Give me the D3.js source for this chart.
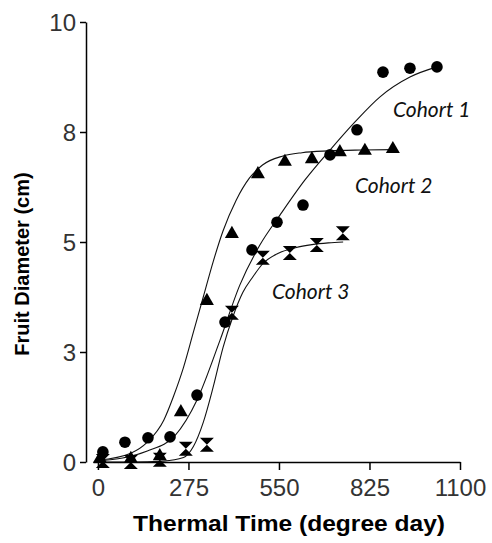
<!DOCTYPE html>
<html>
<head>
<meta charset="utf-8">
<script src="https://cdn.jsdelivr.net/npm/d3@7"></script>
<style>
  body { margin: 0; background: #fff; }
  svg { display: block; }
</style>
</head>
<body>
<div id="chart"></div>
<script>
// observed points, thermal time (degree day) vs fruit diameter (cm)
const cohort1 = [[15,0.23],[82,0.45],[152,0.55],[219,0.57],[301,1.52],[386,3.18],[468,4.82],[544,5.45],[623,5.84],[705,6.98],[787,7.55],[866,8.86],[948,8.95],[1030,8.98]];
const cohort2 = [[6,0.05],[100,0.05],[188,0.11],[252,1.11],[331,3.64],[407,5.16],[486,6.52],[568,6.8],[650,6.86],[735,7.02],[811,7.05],[896,7.09]];
const cohort3 = [[15,0.02],[100,0],[188,0.05],[267,0.3],[331,0.39],[407,3.39],[501,4.64],[583,4.75],[665,4.93],[744,5.2]];

// fitted curves
const fit1 = [[0,0.02],[150,0.25],[234,0.6],[301,1.41],[371,2.77],[431,4.02],[492,4.93],[553,5.61],[629,6.41],[705,7.09],[781,7.73],[857,8.3],[948,8.75],[1030,8.98]];
const fit2 = [[0,0.04],[100,0.2],[150,0.45],[200,0.95],[230,1.5],[260,2.15],[290,2.95],[320,3.75],[350,4.55],[380,5.25],[420,5.95],[460,6.45],[500,6.75],[560,6.95],[620,7.03],[700,7.07],[800,7.09],[900,7.1]];
const fit3 = [[0,0],[100,0],[200,0.02],[260,0.1],[290,0.35],[320,0.9],[350,1.7],[380,2.6],[410,3.3],[440,3.85],[470,4.2],[500,4.5],[550,4.75],[600,4.87],[650,4.94],[700,4.98],[745,5.0]];

const xTicks = [0, 275, 550, 825, 1100];
const yTicks = [0, 2.5, 5, 7.5, 10];
const yTickLabels = ["0", "3", "5", "8", "10"];
const cohortNames = ["Cohort 1", "Cohort 2", "Cohort 3"];

const width = 492;
const height = 543;

const svg = d3.select("#chart")
  .append("svg")
  .attr("width", width)
  .attr("height", height);

const x = d3.scaleLinear().domain([-15, 1100]).range([93, 460]);
const y = d3.scaleLinear().domain([0, 10]).range([462, 22]);

// x axis
const xAxis = svg.append("g")
  .attr("transform", `translate(0, ${y(0)})`)
  .call(d3.axisBottom(x).tickValues(xTicks).tickFormat(d3.format("d"))
    .tickSize(8).tickSizeOuter(0).tickPadding(4));

// y axis, offset a bit to the left
const yAxis = svg.append("g")
  .attr("transform", "translate(86, 0)")
  .call(d3.axisLeft(y).tickValues(yTicks).tickFormat((d, i) => yTickLabels[i])
    .tickSize(6).tickSizeOuter(0).tickPadding(4));

[xAxis, yAxis].forEach(g => {
  g.select(".domain").attr("stroke", "#000").attr("stroke-width", 1.5);
  g.selectAll(".tick line").attr("stroke", "#000").attr("stroke-width", 1.5);
  g.selectAll(".tick text")
    .style("font-family", "'Liberation Sans', Arial, sans-serif")
    .style("font-size", "24px")
    .attr("fill", "#333");
});
xAxis.selectAll(".tick text").attr("dy", "0.9em");
yAxis.selectAll(".tick text").attr("dy", "0.35em");

// axis titles
svg.append("text")
  .attr("x", 289)
  .attr("y", 531)
  .attr("text-anchor", "middle")
  .attr("textLength", 312)
  .attr("lengthAdjust", "spacingAndGlyphs")
  .style("font-family", "'Liberation Sans', Arial, sans-serif")
  .style("font-weight", "bold")
  .style("font-size", "22px")
  .text("Thermal Time (degree day)");

svg.append("text")
  .attr("transform", "translate(29, 264) rotate(-90)")
  .attr("text-anchor", "middle")
  .style("font-family", "'Liberation Sans', Arial, sans-serif")
  .style("font-weight", "bold")
  .style("font-size", "20px")
  .text("Fruit Diameter (cm)");

// fitted curves
const line = d3.line()
  .x(d => x(d[0]))
  .y(d => y(d[1]))
  .curve(d3.curveMonotoneX);

[fit1, fit2, fit3].forEach(f => {
  svg.append("path")
    .datum(f)
    .attr("d", line)
    .attr("fill", "none")
    .attr("stroke", "#111")
    .attr("stroke-width", 1.1);
});

// markers
svg.append("g").selectAll("circle")
  .data(cohort1)
  .enter()
  .append("circle")
  .attr("cx", d => x(d[0]))
  .attr("cy", d => y(d[1]))
  .attr("r", 5.8)
  .attr("fill", "#000");

const tri = d3.symbol().type(d3.symbolTriangle).size(85);
svg.append("g").selectAll("path")
  .data(cohort2)
  .enter()
  .append("path")
  .attr("d", tri)
  .attr("transform", d => `translate(${x(d[0])}, ${y(d[1]) - 1})`)
  .attr("fill", "#000");

// hourglass: two triangles meeting at the tip
const hourglass = "M-7,-7 L7,-7 L0,0 L7,7 L-7,7 L0,0 Z";
svg.append("g").selectAll("path")
  .data(cohort3)
  .enter()
  .append("path")
  .attr("d", hourglass)
  .attr("transform", d => `translate(${x(d[0])}, ${y(d[1])})`)
  .attr("fill", "#000");

// cohort labels
const labelPos = [[393, 117], [355, 193], [272, 299]];
svg.append("g").selectAll("text")
  .data(cohortNames)
  .enter()
  .append("text")
  .attr("x", (d, i) => labelPos[i][0])
  .attr("y", (d, i) => labelPos[i][1])
  .style("font-family", "Lato, 'Open Sans', sans-serif")
  .style("font-style", "italic")
  .style("font-size", "21px")
  .attr("fill", "#111")
  .text(d => d);
</script>
</body>
</html>
